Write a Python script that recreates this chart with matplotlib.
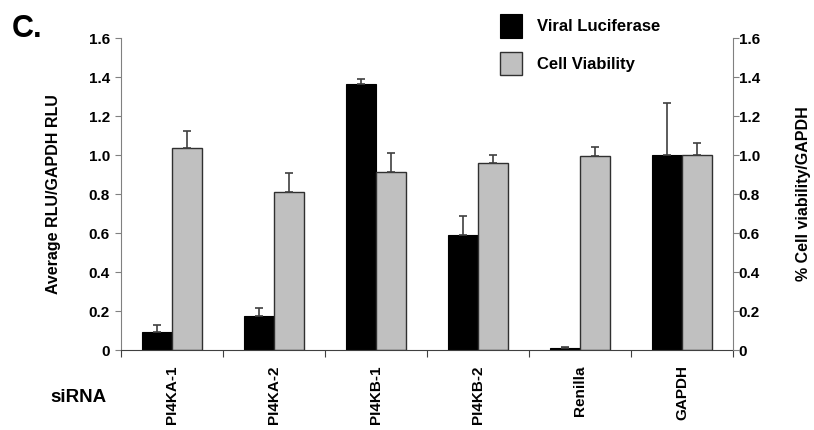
import numpy as np
import matplotlib.pyplot as plt

plt.rcParams['font.family'] = ['Liberation Sans', 'DejaVu Sans']
plt.rcParams['font.weight'] = 'bold'

# siRNA knockdown results, normalised to GAPDH
sirnas = ['PI4KA-1', 'PI4KA-2', 'PI4KB-1', 'PI4KB-2', 'Renilla', 'GAPDH']
luciferase = [0.09, 0.174, 1.365, 0.59, 0.012, 1.0]
luciferase_err = [0.037, 0.04, 0.025, 0.095, 0.005, 0.265]
viability = [1.035, 0.81, 0.915, 0.96, 0.995, 1.0]
viability_err = [0.09, 0.098, 0.093, 0.04, 0.045, 0.06]

fig = plt.figure(figsize=(8.14, 4.30), dpi=100)
ax = fig.add_axes([0.1486, 0.186, 0.7519, 0.7256])

x = np.arange(len(sirnas))
w = 0.29
err_kw = dict(ecolor='#404040', elinewidth=1.2, capsize=3, capthick=1.2)
zeros = np.zeros(len(sirnas))

ax.bar(x - w / 2, luciferase, w, color='black', edgecolor='black', lw=0.8,
       yerr=[zeros, luciferase_err], error_kw=err_kw, label='Viral Luciferase')
ax.bar(x + w / 2, viability, w, color='#c0c0c0', edgecolor='#303030', lw=1.0,
       yerr=[zeros, viability_err], error_kw=err_kw, label='Cell Viability')

ax.set_xlim(-0.5, len(sirnas) - 0.5)
ax.set_ylim(0, 1.6)
yt = np.arange(0, 1.61, 0.2)
ylabels = ['0'] + ['%.1f' % v for v in yt[1:]]
ax.set_yticks(yt)
ax.set_yticklabels(ylabels, fontsize=11, fontweight='bold')

# group separators as major ticks, names as minor ticks
ax.set_xticks(np.arange(len(sirnas) + 1) - 0.5)
ax.set_xticklabels([])
ax.set_xticks(x, minor=True)
ax.set_xticklabels(sirnas, minor=True, rotation=90, fontsize=11,
                   fontweight='bold', va='top')
ax.tick_params(axis='x', which='minor', length=0, pad=11)
ax.tick_params(axis='x', which='major', length=5, color='#404040')
ax.tick_params(axis='y', length=4, color='#808080', pad=4)

for s in ['top', 'right']:
    ax.spines[s].set_visible(False)
ax.spines['left'].set_color('#808080')
ax.spines['bottom'].set_color('#404040')

ax.set_ylabel('Average RLU/GAPDH RLU', fontsize=11.5, fontweight='bold', labelpad=20)

ax2 = ax.twinx()
ax2.set_ylim(0, 1.6)
ax2.set_yticks(yt)
ax2.set_yticklabels(ylabels, fontsize=11, fontweight='bold')
ax2.tick_params(axis='y', length=4, color='#808080', pad=0)
for s in ['top', 'left', 'bottom']:
    ax2.spines[s].set_visible(False)
ax2.spines['right'].set_color('#808080')
ax2.set_ylabel('% Cell viability/GAPDH', fontsize=11.5, fontweight='bold', labelpad=26)
ax2.yaxis.set_label_position('right')

leg = ax.legend(loc='upper left', bbox_to_anchor=(0.595, 1.125), frameon=False,
                fontsize=12, handlelength=1.3, handleheight=1.8,
                labelspacing=0.85, handletextpad=0.9)
for t in leg.get_texts():
    t.set_fontweight('bold')

fig.text(0.014, 0.915, 'C.', fontsize=22, fontweight='bold')
fig.text(0.062, 0.065, 'siRNA', fontsize=13.5, fontweight='bold')

fig.savefig('out.png', dpi=100)
